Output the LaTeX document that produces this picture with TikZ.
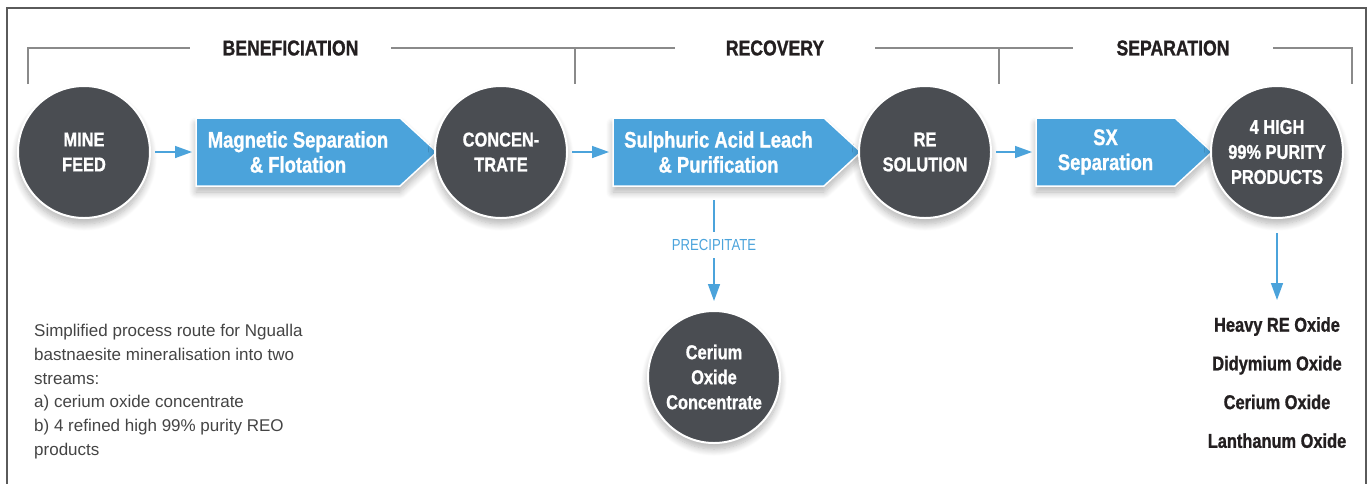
\documentclass[tikz,border=0pt]{standalone}
\usepackage{fontspec}
\setmainfont{Liberation Sans}
\newfontfamily\cond[FakeStretch=0.82, BoldFeatures={FakeBold=1}]{Liberation Sans}
\usetikzlibrary{arrows.meta,shadows.blur}

\definecolor{stepblue}{HTML}{4BA3DB}
\definecolor{discgray}{HTML}{4A4D52}
\definecolor{ink}{HTML}{231F20}
\definecolor{rulegray}{HTML}{8A8A8A}
\definecolor{framegray}{HTML}{5A5A5A}
\definecolor{bodytext}{HTML}{444444}

% one blue process step: name, left x, right x of the body, label
\newcommand\procstep[4]{%
  \path[stepshape] (#2,118) -- (#3,118) -- (#3+37,152) -- (#3,186) -- (#2,186) -- cycle;
  \node[steplabel, minimum width={(#3-#2)*1pt}] (#1) at ({(#2+#3)/2},152) {#4};
  \coordinate (#1tip) at (#3+37,152);
}

\begin{document}
\begin{tikzpicture}[x=1pt,y=-1pt,
  softshadow/.style={blur shadow={shadow xshift=0pt, shadow yshift=-6pt,
      shadow blur steps=10, shadow blur radius=7pt, shadow opacity=30}},
  disc/.style={circle, fill=discgray, draw=white, line width=2pt,
      minimum size=132pt, inner sep=0pt, outer sep=0pt, align=center,
      text=white, font=\cond\bfseries\fontsize{20}{25}\selectfont, softshadow},
  stepshape/.style={fill=stepblue, draw=white, line width=1.5pt, softshadow},
  steplabel/.style={minimum height=68pt, inner sep=0pt, outer sep=0pt,
      align=center, text=white, font=\cond\bfseries\fontsize{22.5}{25}\selectfont},
  head/.style={inner sep=0pt, text=ink, font=\cond\bfseries\fontsize{21.5}{26}\selectfont},
  bracket/.style={draw=rulegray, line width=1.2pt},
  flow/.style={draw=stepblue, line width=1.5pt, -{Triangle[length=17pt,width=12pt]}},
  flowline/.style={draw=stepblue, line width=1.5pt},
]
\useasboundingbox (0,0) rectangle (1370,483);

% outer frame, open at the bottom
\draw[framegray, line width=1.4pt] (7,520) |- (1366,8) -- (1366,520);

% stage headings with their brackets
\node[head] (hbenef) at (290.5,48) {BENEFICIATION};
\node[head] (hrecov) at (775,48) {RECOVERY};
\node[head] (hsep) at (1173,48) {SEPARATION};
\draw[bracket] (28,84) |- (190,48);
\draw[bracket] (391,48) -- (675,48);
\draw[bracket] (575,48) -- (575,84);
\draw[bracket] (875,48) -- (1073,48);
\draw[bracket] (999,48) -- (999,84);
\draw[bracket] (1273,48) -| (1352,84);

% main process line
\node[disc] (feed) at (84,152) {MINE\\FEED};
\procstep{mag}{196}{400}{Magnetic Separation\\\& Flotation}
\node[disc] (conc) at (501,152) {CONCEN-\\TRATE};
\procstep{acid}{613}{824}{Sulphuric Acid Leach\\\& Purification}
\node[disc] (resol) at (925,152) {RE\\SOLUTION};
\procstep{sx}{1036}{1175}{SX\\Separation}
\node[disc] (prod) at (1277,152) {4 HIGH\\99\% PURITY\\PRODUCTS};

\draw[flow, shorten <=5pt, shorten >=4pt] (feed) -- (mag);
\draw[flow, shorten <=5pt, shorten >=4pt] (conc) -- (acid);
\draw[flow, shorten <=5pt, shorten >=4pt] (resol) -- (sx);

% precipitate branch
\node[inner sep=0pt, minimum height=26pt, text=stepblue,
      font=\cond\fontsize{16}{18}\selectfont] (precip) at (714,245) {PRECIPITATE};
\node[disc] (ceo) at (714,377) {Cerium\\Oxide\\Concentrate};
\draw[flowline, shorten <=14pt] (precip.north |- acid.south) -- (precip.north);
\draw[flow, shorten >=10pt] (precip.south) -- (ceo.north);

% final products
\node[anchor=north, inner sep=0pt, align=center, text=ink,
      font=\cond\bfseries\fontsize{20}{38.7}\selectfont] (oxides) at (1277,317)
  {Heavy RE Oxide\\Didymium Oxide\\Cerium Oxide\\Lanthanum Oxide};
\draw[flow, shorten <=15pt, shorten >=17pt] (prod.south) -- (oxides.north);

% explanatory note
\node[anchor=north west, inner sep=0pt, align=left, text=bodytext,
      font=\fontsize{17}{23.8}\selectfont] (note) at (34,324)
  {Simplified process route for Ngualla\\
   bastnaesite mineralisation into two\\
   streams:\\
   a) cerium oxide concentrate\\
   b) 4 refined high 99\% purity REO\\
   products};
\end{tikzpicture}
\end{document}
